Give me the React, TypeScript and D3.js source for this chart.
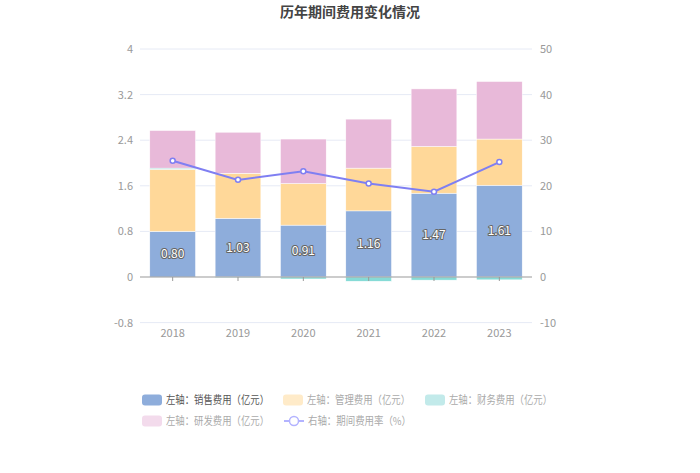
import React from "react";
import * as d3 from "d3";

const years = ["2018", "2019", "2020", "2021", "2022", "2023"];
const sales = [0.8, 1.03, 0.91, 1.16, 1.47, 1.61];
const mgmt = [1.09, 0.79, 0.73, 0.75, 0.82, 0.81];
const finance = [0.02, -0.01, -0.035, -0.075, -0.055, -0.05];
const rnd = [0.66, 0.72, 0.78, 0.86, 1.01, 1.01];
const rate = [25.5, 21.3, 23.2, 20.5, 18.7, 25.2];
const leftTicks = [-0.8, 0, 0.8, 1.6, 2.4, 3.2, 4];
const rightTicks = [-10, 0, 10, 20, 30, 40, 50];

const W = 700, H = 473;
const L = 140, R = 532, T = 49, B = 322.6;

const C = {
  sales: "#8eaddb",
  mgmt: "#ffd899",
  fin: "#86dbd6",
  rnd: "#e8b9d9",
  line: "#7f7ff2",
};

export default function App() {
  if (typeof document !== "undefined") document.body.style.margin = "0";
  const xc = d3.scaleBand().domain(years).range([L, R]);
  const y = d3.scaleLinear().domain([-0.8, 4]).range([B, T]);
  const y2 = d3.scaleLinear().domain([-10, 50]).range([B, T]);
  const bw = xc.bandwidth() * 0.7;

  type Seg = { key: string; color: string; y0: number; y1: number; i: number };
  const segs: Seg[] = [];
  years.forEach((_, i) => {
    let pos = 0, neg = 0;
    const series: [string, number, string][] = [
      ["s", sales[i], C.sales],
      ["m", mgmt[i], C.mgmt],
      ["f", finance[i], C.fin],
      ["r", rnd[i], C.rnd],
    ];
    series.forEach(([k, v, c]) => {
      if (v >= 0) {
        segs.push({ key: k, color: c, y0: pos, y1: pos + v, i });
        pos += v;
      } else {
        segs.push({ key: k, color: c, y0: neg + v, y1: neg, i });
        neg += v;
      }
    });
  });

  const cx = (i: number) => (xc(years[i]) as number) + xc.bandwidth() / 2;
  const line = d3.line<number>().x((_, i) => cx(i)).y((d) => y2(d));

  const font = "'Microsoft YaHei', 'Noto Sans CJK SC', sans-serif";

  const legendItems = [
    { label: "左轴：销售费用（亿元）", color: C.sales, x: 142, y: 400, active: true },
    { label: "左轴：管理费用（亿元）", color: "#ffebc9", x: 283, y: 400 },
    { label: "左轴：财务费用（亿元）", color: "#c2eaea", x: 425, y: 400 },
    { label: "左轴：研发费用（亿元）", color: "#f3dbec", x: 142, y: 421 },
  ];

  return (
    <svg width={W} height={H} style={{ display: "block", fontFamily: font }}>
      <rect width={W} height={H} fill="#fff" />
      <text x={350} y={17} textAnchor="middle" fontSize={14} fontWeight="bold" fill="#444">
        历年期间费用变化情况
      </text>
      {leftTicks.map((t) => (
        <g key={"g" + t}>
          {t !== 0 && <line x1={L} x2={R} y1={y(t)} y2={y(t)} stroke="#e6eaf5" strokeWidth={1} />}
          <text x={133} y={y(t) + 4} textAnchor="end" fontSize={11} fill="#999">
            {t}
          </text>
        </g>
      ))}
      {rightTicks.map((t) => (
        <text key={"r" + t} x={540} y={y2(t) + 4} textAnchor="start" fontSize={11} fill="#999">
          {t}
        </text>
      ))}
      {segs.map((s, j) => (
        <rect
          key={j}
          x={cx(s.i) - bw / 2}
          width={bw}
          y={y(s.y1)}
          height={Math.max(0, y(s.y0) - y(s.y1))}
          fill={s.color}
          stroke="#fff"
          strokeWidth={0.5}
        />
      ))}
      <line x1={L} x2={R} y1={y(0)} y2={y(0)} stroke="#999" strokeWidth={1} />
      {years.map((yr, i) => (
        <g key={yr}>
          <line x1={cx(i)} x2={cx(i)} y1={y(0)} y2={y(0) + 4} stroke="#999" />
          <text x={cx(i)} y={337} textAnchor="middle" fontSize={11} fill="#999">
            {yr}
          </text>
        </g>
      ))}
      {sales.map((v, i) => (
        <text
          key={"l" + i}
          x={cx(i)}
          y={y(v / 2) + 4}
          textAnchor="middle"
          fontSize={12}
          fill="#fff"
          stroke="#666"
          strokeWidth={2}
          paintOrder="stroke"
          strokeLinejoin="round"
        >
          {v.toFixed(2)}
        </text>
      ))}
      <path d={line(rate) || ""} fill="none" stroke={C.line} strokeWidth={2} />
      {rate.map((v, i) => (
        <circle key={"c" + i} cx={cx(i)} cy={y2(v)} r={2.5} fill="#fff" stroke={C.line} strokeWidth={1.5} />
      ))}
      {legendItems.map((it) => (
        <g key={it.label}>
          <rect x={it.x} y={it.y - 5.5} width={20} height={11} rx={3} fill={it.color} />
          <text
            x={it.x + 24}
            y={it.y + 4}
            fontSize={11}
            fill={it.active ? "#555" : "#aaa"}
            textLength={103}
            lengthAdjust="spacingAndGlyphs"
          >
            {it.label}
          </text>
        </g>
      ))}
      <g>
        <line x1={284} x2={304} y1={421} y2={421} stroke="#b3b3ff" strokeWidth={2} />
        <circle cx={294} cy={421} r={4.5} fill="#fff" stroke="#b3b3ff" strokeWidth={1.5} />
        <text x={308} y={425} fontSize={11} fill="#aaa" textLength={103} lengthAdjust="spacingAndGlyphs">
          右轴：期间费用率（%）
        </text>
      </g>
    </svg>
  );
}
